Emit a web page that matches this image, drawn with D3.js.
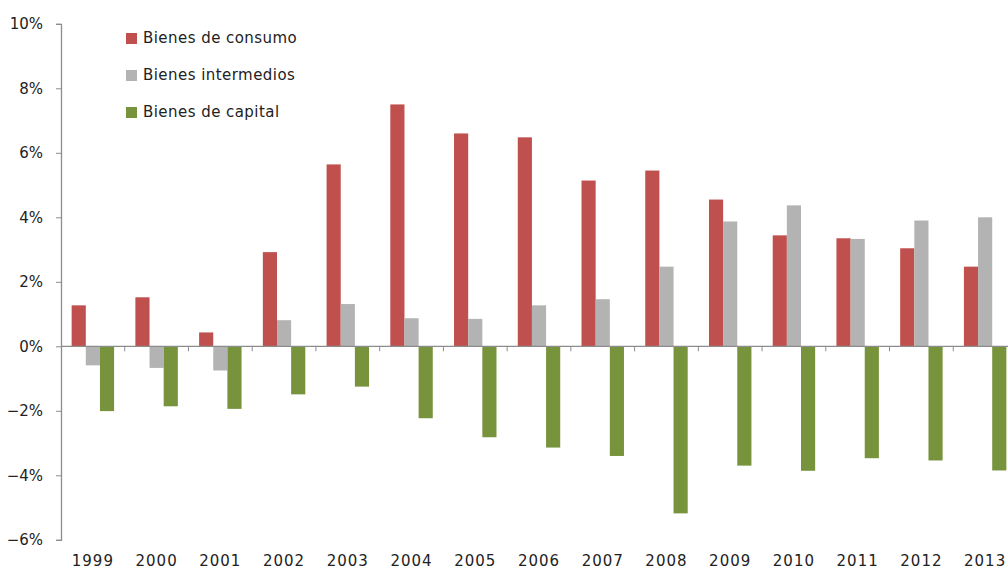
<!DOCTYPE html>
<html lang="es">
<head>
<meta charset="UTF-8">
<title>Bienes</title>
<script src="https://d3js.org/d3.v7.min.js"></script>
<style>
  body { margin: 0; background: #fff; }
  text { font-family: "DejaVu Sans", sans-serif; fill: #222; }
</style>
</head>
<body>
<svg width="1008" height="573"></svg>
<script>
var years = ['1999','2000','2001','2002','2003','2004','2005','2006','2007','2008','2009','2010','2011','2012','2013']
var seriesNames = ['Bienes de consumo', 'Bienes intermedios', 'Bienes de capital']
var consumo = [1.27, 1.52, 0.43, 2.92, 5.64, 7.5, 6.6, 6.48, 5.14, 5.45, 4.55, 3.44, 3.35, 3.04, 2.47]
var intermedios = [-0.59, -0.67, -0.75, 0.81, 1.31, 0.87, 0.85, 1.27, 1.46, 2.47, 3.87, 4.37, 3.33, 3.9, 4.0]
var capital = [-2.01, -1.86, -1.94, -1.49, -1.25, -2.23, -2.82, -3.14, -3.4, -5.18, -3.7, -3.86, -3.47, -3.54, -3.85]
var yTicks = [-6, -4, -2, 0, 2, 4, 6, 8, 10]
var colors = ['#C0504D', '#B3B3B3', '#77933C']

var allSeries = [consumo, intermedios, capital]
var svg = d3.select('svg')

var x = d3.scaleBand().domain(years).range([61, 1017]).padding(0)
var inner = d3.scaleBand().domain(d3.range(3))
    .range([x.bandwidth() * 0.167, x.bandwidth() * 0.833]).padding(0)
var y = d3.scaleLinear().domain([-6, 10]).range([539.8, 23.8])

// y axis
var yAxis = svg.append('g')
    .attr('transform', 'translate(61,0)')
    .call(d3.axisLeft(y).tickValues(yTicks).tickSize(5).tickPadding(13)
        .tickFormat(function(d){ return (d < 0 ? '\u2212' + (-d) : d) + '%' }))
yAxis.select('.domain').attr('stroke', '#8c8c8c').attr('stroke-width', 1.3)
yAxis.selectAll('.tick line').attr('stroke', '#8c8c8c')
yAxis.selectAll('text').style('font-size', '15px')

// bars
years.forEach(function(yr, i){
    allSeries.forEach(function(s, j){
        var v = s[i]
        svg.append('rect')
            .attr('x', x(yr) + inner(j))
            .attr('width', inner.bandwidth())
            .attr('y', y(Math.max(0, v)))
            .attr('height', Math.abs(y(v) - y(0)))
            .attr('fill', colors[j])
    })
})

// x axis line at zero
svg.append('line')
    .attr('x1', 61).attr('x2', 1008)
    .attr('y1', y(0)).attr('y2', y(0))
    .attr('stroke', '#8c8c8c').attr('stroke-width', 1.3)

years.slice(1).forEach(function(yr){
    svg.append('line')
        .attr('x1', x(yr)).attr('x2', x(yr))
        .attr('y1', y(0)).attr('y2', y(0) + 5)
        .attr('stroke', '#8c8c8c')
})

svg.selectAll('.xlab')
    .data(years)
    .enter()
    .append('text')
    .attr('x', function(d){ return x(d) + x.bandwidth() / 2 })
    .attr('y', 566)
    .attr('text-anchor', 'middle')
    .style('font-size', '15px')
    .style('letter-spacing', '1px')
    .text(function(d){ return d })

// legend
seriesNames.forEach(function(name, j){
    svg.append('rect')
        .attr('x', 126).attr('y', 33 + j * 37)
        .attr('width', 11).attr('height', 11)
        .attr('fill', colors[j])
    svg.append('text')
        .attr('x', 143).attr('y', 43 + j * 37)
        .style('font-size', '15px')
        .style('letter-spacing', '0.45px')
        .text(name)
})
</script>
</body>
</html>
